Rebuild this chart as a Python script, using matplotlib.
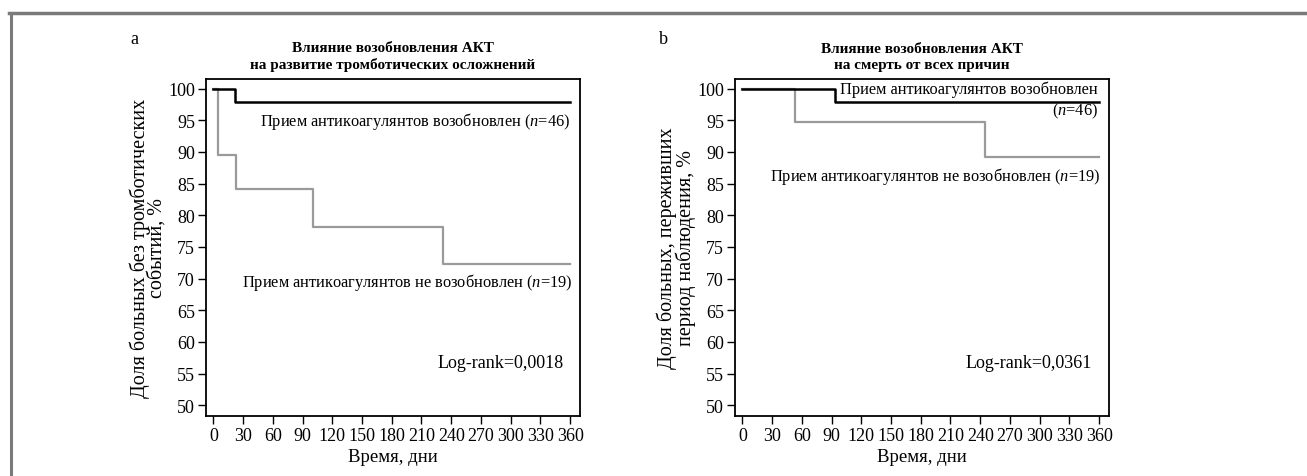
import matplotlib
matplotlib.use("Agg")
import matplotlib.pyplot as plt
from matplotlib.lines import Line2D

plt.rcParams['font.family'] = ['Liberation Serif', 'DejaVu Serif']
plt.rcParams['font.size'] = 12.5
plt.rcParams['mathtext.fontset'] = 'custom'
plt.rcParams['mathtext.rm'] = 'Liberation Serif'
plt.rcParams['mathtext.it'] = 'Liberation Serif:italic'

# --- data ---
ticks_x = list(range(0, 361, 30))
ticks_y = list(range(50, 101, 5))

# panel a: thrombotic events
a_resumed_t = [0, 22, 360]
a_resumed_s = [100, 97.8, 97.8]
a_not_t = [0, 5, 23, 101, 232, 360]
a_not_s = [100, 89.5, 84.2, 78.2, 72.3, 72.3]

# panel b: all-cause death
b_resumed_t = [0, 93, 360]
b_resumed_s = [100, 97.8, 97.8]
b_not_t = [0, 53, 245, 360]
b_not_s = [100, 94.7, 89.2, 89.2]

W, H = 1307, 477
fig = plt.figure(figsize=(W / 100, H / 100), dpi=100)

# grey page frame
fig.add_artist(Line2D([9 / W, 1], [1 - 13.5 / H, 1 - 13.5 / H], color='#7a7a7a', lw=2.5))
fig.add_artist(Line2D([10.5 / W, 10.5 / W], [0, 1 - 13.5 / H], color='#7a7a7a', lw=2.2))


def panel(left, right, letter, title, ylabel, res_t, res_s, not_t, not_s, logrank):
    ax = fig.add_axes([left / W, 1 - 417 / H, (right - left) / W, (417 - 80) / H])
    ax.step(not_t, not_s, where='post', color='#9a9a9a', lw=1.6)
    ax.step(res_t, res_s, where='post', color='black', lw=1.8)
    ax.set_xlim(-7.5, 370)
    ax.set_ylim(48.3, 101.5)
    ax.set_xticks(ticks_x)
    ax.set_yticks(ticks_y)
    ax.tick_params(direction='out', length=6, width=1, pad=2, labelsize=13)
    for s in ax.spines.values():
        s.set_linewidth(1.3)
    ax.set_xlabel('Время, дни', fontsize=13.5, labelpad=3)
    ax.set_ylabel(ylabel, fontsize=14.5, labelpad=1, linespacing=0.85)
    ax.set_title(title, fontsize=11, fontweight='bold', linespacing=1.25, pad=8)
    fig.text((left - 76) / W, 1 - 40 / H, letter, fontsize=13, va='center')
    ax.text(0.955, 0.16, logrank, transform=ax.transAxes, fontsize=13, ha='right', va='center')
    return ax


ax1 = panel(206, 580, 'a', 'Влияние возобновления АКТ\nна развитие тромботических осложнений',
            'Доля больных без тромботических\nсобытий, %',
            a_resumed_t, a_resumed_s, a_not_t, a_not_s, 'Log-rank=0,0018')
ax1.text(360, 95.0, 'Прием антикоагулянтов возобновлен ($n$=46)', ha='right', va='center', fontsize=11.8)
ax1.text(362, 69.6, 'Прием антикоагулянтов не возобновлен ($n$=19)', ha='right', va='center', fontsize=11.8)

ax2 = panel(735, 1109, 'b', 'Влияние возобновления АКТ\nна смерть от всех причин',
            'Доля больных, переживших\nпериод наблюдения, %',
            b_resumed_t, b_resumed_s, b_not_t, b_not_s, 'Log-rank=0,0361')
ax2.text(359, 99.9, 'Прием антикоагулянтов возобновлен', ha='right', va='center', fontsize=11.8,
         bbox=dict(facecolor='white', edgecolor='none', pad=0.5))
ax2.text(359, 96.6, '($n$=46)', ha='right', va='center', fontsize=11.8)
ax2.text(361, 86.2, 'Прием антикоагулянтов не возобновлен ($n$=19)', ha='right', va='center', fontsize=11.8)

fig.savefig('out.png', dpi=100)
